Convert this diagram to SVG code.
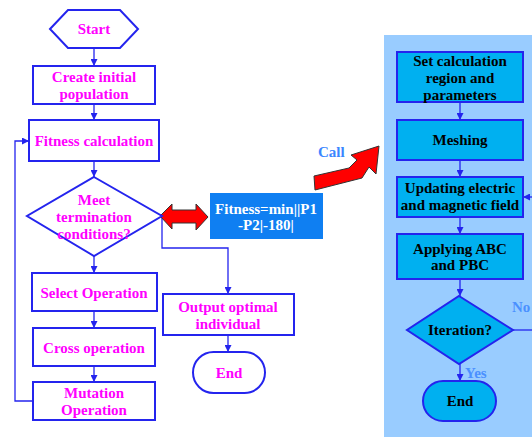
<svg xmlns="http://www.w3.org/2000/svg" width="532" height="437" viewBox="0 0 532 437">
<defs>
<marker id="ah" viewBox="0 0 10 10" refX="10" refY="5" markerWidth="7" markerHeight="7" markerUnits="userSpaceOnUse" orient="auto"><path d="M0,0 L10,5 L0,10 z" fill="#2424ee"/></marker>
<style>
.n{fill:#fff;stroke:#2424ee;stroke-width:2}
.p{fill:#00b0f0;stroke:#2424ee;stroke-width:2}
.t{font-family:"Liberation Serif","Times New Roman",serif;font-weight:bold;font-size:15px;text-anchor:middle;fill:#ff00ff}
.k{font-family:"Liberation Serif","Times New Roman",serif;font-weight:bold;font-size:15px;text-anchor:middle;fill:#000}
.w{font-family:"Liberation Serif","Times New Roman",serif;font-weight:bold;font-size:15px;text-anchor:middle;fill:#fff}
.l{font-family:"Liberation Serif","Times New Roman",serif;font-weight:bold;font-size:15px;fill:#4a90ff}
.c{fill:none;stroke:#2424ee;stroke-width:1.3}
.red{fill:#ff0000;stroke:#333;stroke-width:1}
</style>
</defs>
<rect x="384" y="35" width="148" height="402" fill="#99ccff"/>
<g id="connectors">
<line class="c" x1="94" y1="48" x2="94" y2="66" marker-end="url(#ah)"/>
<line class="c" x1="94" y1="104" x2="94" y2="120" marker-end="url(#ah)"/>
<line class="c" x1="94" y1="161" x2="94" y2="177" marker-end="url(#ah)"/>
<line class="c" x1="94" y1="256" x2="94" y2="273" marker-end="url(#ah)"/>
<line class="c" x1="94" y1="311" x2="94" y2="328" marker-end="url(#ah)"/>
<line class="c" x1="94" y1="366" x2="94" y2="382" marker-end="url(#ah)"/>
<polyline class="c" points="33,401 15,401 15,141 29,141" marker-end="url(#ah)"/>
<polyline class="c" points="162,216 162,248 228,248 228,294" marker-end="url(#ah)"/>
<line class="c" x1="228" y1="335" x2="228" y2="352" marker-end="url(#ah)"/>
<line class="c" x1="460" y1="102" x2="460" y2="120" marker-end="url(#ah)"/>
<line class="c" x1="460" y1="160" x2="460" y2="177" marker-end="url(#ah)"/>
<line class="c" x1="460" y1="217" x2="460" y2="234" marker-end="url(#ah)"/>
<line class="c" x1="460" y1="279" x2="460" y2="296" marker-end="url(#ah)"/>
<line class="c" x1="460" y1="364" x2="460" y2="381" marker-end="url(#ah)"/>
<line class="c" x1="513" y1="330" x2="532" y2="330"/>
<line class="c" x1="532" y1="197" x2="523" y2="197" marker-end="url(#ah)"/>
<polygon class="red" points="160,216 172,204 172,210 196,210 196,204 208,217 196,230 196,223 172,223 172,229"/>
<polygon class="red" points="314,176 349,168 357,160 351,155 379,146 376,174 369,167 362,178 315,190"/>
<text class="l" x="318" y="157" style="fill:#3a86ff">Call</text>
<text class="l" x="512" y="312">No</text>
<text class="l" x="465" y="378">Yes</text>
</g>
<g id="start"><polygon class="n" points="50,29 68,10 120,10 138,29 120,48 68,48"/><text class="t" x="94" y="34">Start</text></g>
<g id="create"><rect class="n" x="33" y="66" width="122" height="38"/><text class="t" x="94" y="82">Create initial</text><text class="t" x="94" y="99">population</text></g>
<g id="fitness"><rect class="n" x="29" y="120" width="130" height="41"/><text class="t" x="94" y="146">Fitness calculation</text></g>
<g id="meet"><polygon class="n" points="94,177 162,216 94,256 27,216"/><text class="t" x="94" y="205">Meet</text><text class="t" x="94" y="222">termination</text><text class="t" x="94" y="239">conditions?</text></g>
<g id="select"><rect class="n" x="32" y="273" width="125" height="38"/><text class="t" x="94" y="298">Select Operation</text></g>
<g id="cross"><rect class="n" x="33" y="328" width="122" height="38"/><text class="t" x="94" y="353">Cross operation</text></g>
<g id="mutation"><rect class="n" x="33" y="382" width="122" height="38"/><text class="t" x="94" y="398">Mutation</text><text class="t" x="94" y="415">Operation</text></g>
<g id="output"><rect class="n" x="163" y="294" width="131" height="41"/><text class="t" x="228" y="312">Output optimal</text><text class="t" x="228" y="329">individual</text></g>
<g id="end1"><rect class="n" x="193" y="352" width="72" height="41" rx="20.5"/><text class="t" x="229" y="378">End</text></g>
<g id="fitfunc"><rect x="210" y="193" width="113" height="46" fill="#0f7ff2"/><text class="w" x="266" y="214">Fitness=min||P1</text><text class="w" x="266" y="230">-P2|-180|</text></g>
<g id="setcalc"><rect class="p" x="397" y="52" width="126" height="50"/><text class="k" x="460" y="66">Set calculation</text><text class="k" x="460" y="83">region and</text><text class="k" x="460" y="100">parameters</text></g>
<g id="meshing"><rect class="p" x="397" y="120" width="126" height="40"/><text class="k" x="460" y="145">Meshing</text></g>
<g id="updating"><rect class="p" x="397" y="177" width="126" height="40"/><text class="k" x="460" y="193">Updating electric</text><text class="k" x="460" y="210">and magnetic field</text></g>
<g id="applying"><rect class="p" x="397" y="234" width="126" height="45"/><text class="k" x="460" y="254">Applying ABC</text><text class="k" x="460" y="270">and PBC</text></g>
<g id="iteration"><polygon class="p" points="459,296 513,330 459,364 407,330"/><text class="k" x="460" y="335">Iteration?</text></g>
<g id="end2"><rect class="p" x="423" y="381" width="73" height="40" rx="20"/><text class="k" x="460" y="406">End</text></g>
</svg>
